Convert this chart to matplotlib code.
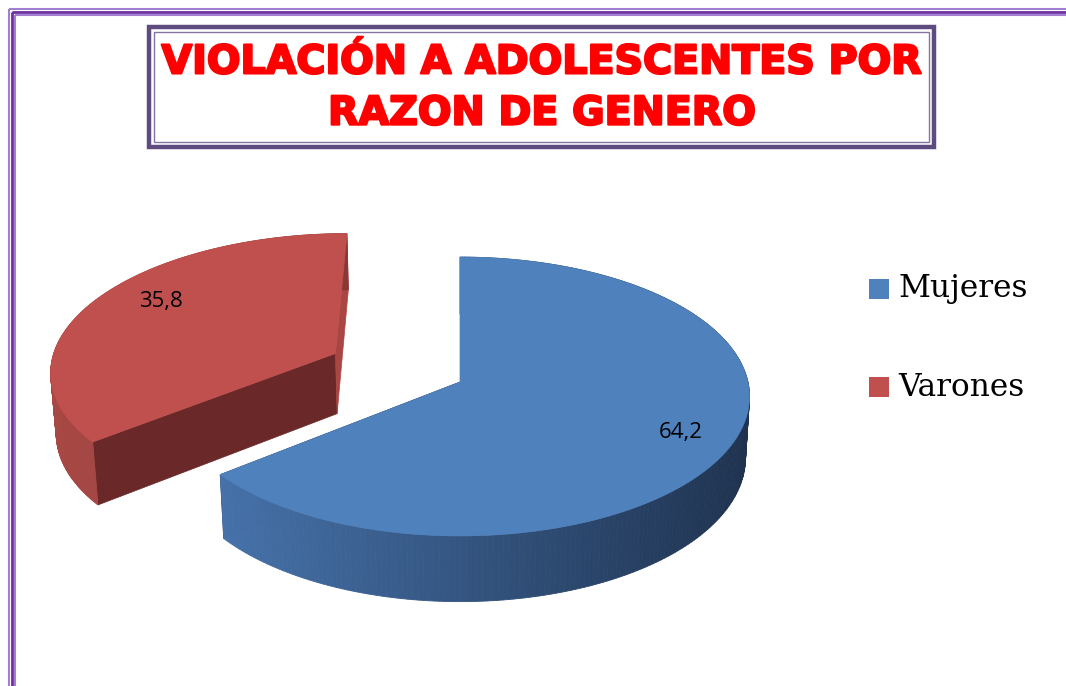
import numpy as np
import matplotlib
matplotlib.use("Agg")
import matplotlib.pyplot as plt
import matplotlib.patheffects as pe
from matplotlib.patches import Polygon, Rectangle
from matplotlib.colors import to_rgb

# data
categories = ["Mujeres", "Varones"]
values = [64.2, 35.8]
explode = [0.0, 0.49]
title = "VIOLACIÓN A ADOLESCENTES POR\nRAZON DE GENERO"

top_colors = ["#4f81bd", "#c0504d"]
side_left = ["#4672aa", "#a84845"]
side_right = ["#1f3350", "#8a3836"]
cut_start = ["#1f3350", "#6b2828"]   # face at the slice's first edge
cut_end = ["#1f3350", "#a94644"]     # face at the slice's last edge
label_r = [0.82, 0.78]
label_nudge = [0.0, -6.0]   # degrees

# simple perspective projection of the pie (pixel coords, y down)
CX, CY = 460, 382
F, D = 2433.0, 8.45
S, C = 0.479, 0.878
H = 0.245


def proj(X, Y, Z):
    d = D + Y * C - Z * S
    return CX + F * X / d, CY - F * (Y * S + Z * C) / d


def mix(c1, c2, t):
    a, b = np.array(to_rgb(c1)), np.array(to_rgb(c2))
    return tuple(a + (b - a) * t)


fig = plt.figure(figsize=(10.66, 6.86), dpi=100)
ax = fig.add_axes([0, 0, 1, 1])
ax.set_xlim(0, 1066)
ax.set_ylim(686, 0)
ax.axis("off")

# outer page frame
for off, col, lw in [(9, "#a27ed2", 1.5), (12, "#7030a0", 2.0), (15, "#a27ed2", 1.5)]:
    ax.add_patch(Rectangle((off, off), 1200, 900, fill=False, ec=col, lw=lw))

# title box
ax.add_patch(Rectangle((149, 27), 785, 120, fill=False, ec="#5e4b80", lw=3.2))
ax.add_patch(Rectangle((154, 32), 775, 110, fill=False, ec="#8474a4", lw=1.0))
ax.text(542, 88, title, ha="center", va="center", color="#ff0000",
        fontsize=28.5, fontweight="bold", family="DejaVu Sans", linespacing=1.36,
        path_effects=[pe.withStroke(linewidth=1.6, foreground="#ff0000")])

# slice angles: start at 12 o'clock, clockwise
total = sum(values)
starts, ends = [], []
a = 90.0
for v in values:
    starts.append(a)
    a -= v / total * 360.0
    ends.append(a)

# draw back slice (Varones) first, then front
for i in [1, 0]:
    t1, t2 = np.radians(starts[i]), np.radians(ends[i])
    mid = (t1 + t2) / 2
    ox, oy = explode[i] * np.cos(mid), explode[i] * np.sin(mid)
    th = np.linspace(t1, t2, 240)
    xs, ys = ox + np.cos(th), oy + np.sin(th)

    # radial cut faces
    for t, fc in ((t1, cut_start[i]), (t2, cut_end[i])):
        ex, ey = ox + np.cos(t), oy + np.sin(t)
        pts = [proj(ox, oy, 0), proj(ex, ey, 0), proj(ex, ey, -H), proj(ox, oy, -H)]
        ax.add_patch(Polygon(pts, closed=True, fc=fc, ec=fc, lw=0.5))

    # outer wall with horizontal shading
    top_pts = [proj(x, y, 0) for x, y in zip(xs, ys)]
    bot_pts = [proj(x, y, -H) for x, y in zip(xs, ys)]
    px = np.array([p[0] for p in top_pts])
    lo, hi = px.min(), px.max()
    for k in range(len(th) - 1):
        quad = [top_pts[k], top_pts[k + 1], bot_pts[k + 1], bot_pts[k]]
        tt = (px[k] - lo) / (hi - lo + 1e-9)
        col = mix(side_left[i], side_right[i], tt)
        ax.add_patch(Polygon(quad, closed=True, fc=col, ec=col, lw=0.6))

    # top surface
    poly = [proj(ox, oy, 0)] + top_pts
    ax.add_patch(Polygon(poly, closed=True, fc=top_colors[i], ec=top_colors[i], lw=0.5))

    # value label
    la = mid + np.radians(label_nudge[i])
    lx, ly = proj(ox + label_r[i] * np.cos(la), oy + label_r[i] * np.sin(la), 0)
    ax.text(lx, ly, f"{values[i]:.1f}".replace(".", ","), ha="center", va="center",
            fontsize=16, family="Open Sans", color="black")

# legend
for k, (name, col) in enumerate(zip(categories, top_colors)):
    y = 289 + k * 98
    ax.add_patch(Rectangle((869, y - 10), 20, 20, fc=col, ec="none"))
    ax.text(898, y, name, ha="left", va="center", fontsize=22.5,
            family="DejaVu Serif", color="black")

fig.savefig("out.png", dpi=100)
